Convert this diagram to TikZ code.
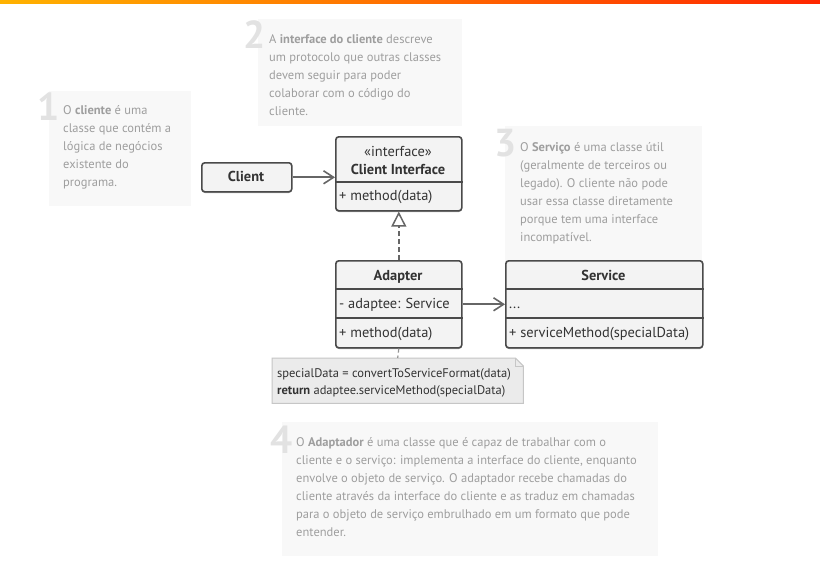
\documentclass[tikz,border=0pt]{standalone}
\usepackage{fontspec}
\setmainfont{PT Sans}
\usetikzlibrary{arrows.meta,shadows}
\definecolor{notebg}{HTML}{F8F8F8}
\definecolor{notetext}{HTML}{9E9E9E}
\definecolor{digit}{HTML}{E2E2E2}
\definecolor{boxline}{HTML}{4A4A4A}
\definecolor{boxfill}{HTML}{F3F3F3}
\definecolor{boxtext}{HTML}{333333}
\definecolor{conn}{HTML}{666666}
\definecolor{memobg}{HTML}{EBEBEB}
\definecolor{memoline}{HTML}{C6C6C6}
\tikzset{
  notebox/.style={fill=notebg, draw=none, anchor=north west, inner sep=0},
  notetxt/.style={anchor=north west, inner sep=0, align=left, text=notetext,
    font=\fontsize{12.5}{18}\selectfont},
  bignum/.style={anchor=base east, inner sep=0, text=digit, font=\bfseries\fontsize{39}{39}\selectfont},
  classbox/.style={draw=boxline, line width=1.6pt, fill=boxfill, rounded corners=3pt,
    anchor=north west, inner sep=0,
    drop shadow={shadow xshift=0pt, shadow yshift=-1.2pt, fill=black, opacity=0.35}},
  divider/.style={draw=boxline, line width=1.6pt},
  ctext/.style={inner sep=0, text=boxtext, font=\fontsize{14.4}{16}\selectfont},
  ltext/.style={ctext, anchor=base west},
  mtext/.style={ctext, anchor=base},
  memotxt/.style={anchor=base west, inner sep=0, text=boxtext, font=\fontsize{12.5}{17}\selectfont},
  assoc/.style={draw=conn, line width=1.8pt, -{Straight Barb[length=10pt, width=13pt, line width=1.6pt]}},
  realize/.style={draw=conn, line width=1.5pt, dash pattern=on 5pt off 3pt,
    -{Triangle[open, length=15pt, width=15pt, line width=1.5pt, fill=white]}},
  memolink/.style={draw=conn!70, line width=1.2pt, dash pattern=on 4pt off 3pt},
}
\begin{document}
\begin{tikzpicture}[x=1pt,y=-1pt]
\useasboundingbox (0,0) rectangle (820,562);
\fill[white] (0,0) rectangle (820,562);
% top strip
\shade[left color=orange!60!yellow, right color=red!70!orange] (0,0) rectangle (820,3);

% note backgrounds
\node[notebox, minimum width=142, minimum height=115] (n1) at (49,91) {};
\node[notebox, minimum width=204, minimum height=107] (n2) at (258,19) {};
\node[notebox, minimum width=197, minimum height=136] (n3) at (505,126) {};
\node[notebox, minimum width=376, minimum height=134] (n4) at (282,422) {};

% big digits
\node[bignum] (d1) at (60,120) {1};
\node[bignum] (d2) at (266,48) {2};
\node[bignum] (d3) at (517,156) {3};
\node[bignum] (d4) at (293,453) {4};

% note texts
\node[notetxt] (t1) at (63,105.5) {O \textbf{cliente} é uma\\classe que contém a\\lógica de negócios\\existente do\\programa.};
\node[notetxt] (t2) at (269,34.5) {A \textbf{interface do cliente} descreve\\um protocolo que outras classes\\devem seguir para poder\\colaborar com o código do\\cliente.};
\node[notetxt] (t3) at (520,142.5) {O \textbf{Serviço} é uma classe útil\\(geralmente de terceiros ou\\legado). O cliente não pode\\usar essa classe diretamente\\porque tem uma interface\\incompatível.};
\node[notetxt] (t4) at (296,437.5) {O \textbf{Adaptador} é uma classe que é capaz de trabalhar com o\\cliente e o serviço: implementa a interface do cliente, enquanto\\envolve o objeto de serviço. O adaptador recebe chamadas do\\cliente através da interface do cliente e as traduz em chamadas\\para o objeto de serviço embrulhado em um formato que pode\\entender.};

% Client
\node[classbox, minimum width=90, minimum height=29] (cl) at (201,162) {};
\node[mtext] (clt) at (246,181.5) {\textbf{Client}};

% Client Interface
\node[classbox, minimum width=126, minimum height=74] (ci) at (335,136) {};
\draw[divider] (ci.west |- 0,182) -- (ci.east |- 0,182);
\node[mtext] (cis) at (398,156.5) {«interface»};
\node[mtext] (cin) at (398,174.5) {\textbf{Client Interface}};
\node[ltext] (cim) at (339,200.5) {+ method(data)};

% Adapter
\node[classbox, minimum width=126, minimum height=87] (ad) at (335,260) {};
\draw[divider] (ad.west |- 0,289) -- (ad.east |- 0,289);
\draw[divider] (ad.west |- 0,318) -- (ad.east |- 0,318);
\node[mtext] (adn) at (398,280.5) {\textbf{Adapter}};
\node[ltext] (ada) at (339,308.5) {- adaptee: Service};
\node[ltext] (adm) at (339,337.5) {+ method(data)};

% Service
\node[classbox, minimum width=197, minimum height=87] (sv) at (505,260) {};
\draw[divider] (sv.west |- 0,289) -- (sv.east |- 0,289);
\draw[divider] (sv.west |- 0,318) -- (sv.east |- 0,318);
\node[mtext] (svn) at (603.5,280.5) {\textbf{Service}};
\node[ltext] (sva) at (509,308.5) {...};
\node[ltext] (svm) at (509,337.5) {+ serviceMethod(specialData)};

% memo note
\node[inner sep=0, minimum width=251, minimum height=45, anchor=north west] (memo) at (272,358) {};
\draw[fill=memobg, draw=memoline, line width=1pt]
  (memo.north west) -- ([xshift=-8pt]memo.north east) -- ([yshift=-8pt]memo.north east)
  -- (memo.south east) -- (memo.south west) -- cycle;
\draw[draw=memoline, line width=1pt]
  ([xshift=-8pt]memo.north east) -- ([xshift=-8pt,yshift=-8pt]memo.north east) -- ([yshift=-8pt]memo.north east);
\node[memotxt] (m1) at (277,377.5) {specialData = convertToServiceFormat(data)};
\node[memotxt] (m2) at (277,394.5) {\textbf{return} adaptee.serviceMethod(specialData)};

% connectors
\draw[assoc] (cl.east) -- (cl.east -| ci.west);
\draw[realize] (ad.north) -- (ci.south);
\draw[assoc] (ad.east) -- (sv.west);
\draw[memolink] (ad.south) -- (memo.north);
\end{tikzpicture}
\end{document}
